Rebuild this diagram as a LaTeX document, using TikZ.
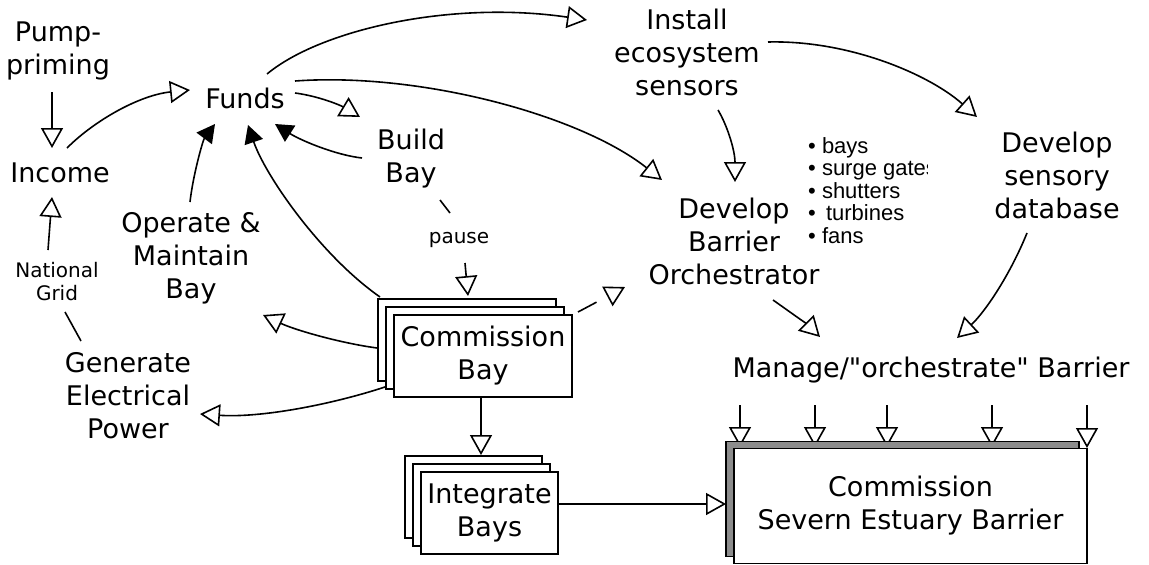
\documentclass[tikz,border=0pt]{standalone}
\usepackage{fontspec}
\newfontfamily\genv{DejaVu Sans}
\newfontfamily\helv{Liberation Sans}
\usetikzlibrary{arrows.meta,shadows,backgrounds}
\begin{document}
\begin{tikzpicture}[x=1pt,y=-1pt,
  lbl/.style={font=\genv\fontsize{27}{33}\selectfont, align=center, inner sep=0pt},
  sml/.style={font=\genv\fontsize{20}{23}\selectfont, align=center, inner sep=0pt},
  con/.style={line width=1.6pt},
  oa/.style={con, -{Triangle[open, length=20pt, width=22pt, line width=1.6pt]}},
  fa/.style={con, -{Triangle[length=18pt, width=19pt]}},
  stack/.style={draw, line width=1.8pt, fill=white, lbl, minimum width=#1, minimum height=82pt,
     copy shadow={shadow xshift=-16pt, shadow yshift=16pt, line width=1.8pt},
     copy shadow={shadow xshift=-8pt, shadow yshift=8pt, line width=1.8pt}},
]
\useasboundingbox (0,0) rectangle (1149,565);

% text nodes
\node[lbl] (pump) at (58,51) {Pump-\\priming};
\node[lbl] (income) at (60,173) {Income};
\node[sml] (grid) at (57,282) {National\\Grid};
\node[lbl] (generate) at (128,396) {Generate\\Electrical\\Power};
\node[lbl] (funds) at (245,98) {Funds};
\node[lbl] (operate) at (191,258) {Operate \&\\Maintain\\Bay};
\node[lbl] (build) at (411,159) {Build\\Bay};
\node[sml] (pause) at (459,240) {pause};
\node[lbl] (install) at (687,52) {Install\\ecosystem\\sensors};
\node[lbl] (devorch) at (734,241) {Develop\\Barrier\\Orchestrator};
\node[lbl] (sensdb) at (1057,175) {Develop\\sensory\\database};
\node[lbl] (manage) at (931,370) {Manage/"orchestrate" Barrier};
\begin{scope}
  \clip (800,120) rectangle (927,262);
  \node[font=\helv\fontsize{22}{22.5}\selectfont, align=left, inner sep=0pt, anchor=north west] (list) at (808,137)
    {• bays\\• surge gates\\• shutters\\•\kern4pt\ turbines\\• fans};
\end{scope}

% boxes
\node[stack=178pt] (cbay) at (483,356) {Commission\\Bay};
\node[stack=137pt] (ibays) at (489.5,513) {Integrate\\Bays};
\node[draw, line width=1.8pt, fill=white, lbl, minimum width=353pt, minimum height=115pt,
  copy shadow={shadow xshift=-8pt, shadow yshift=7pt, fill=black!45, line width=1.8pt}]
  (severn) at (910.5,506) {Commission\\Severn Estuary Barrier};

% connectors
\draw[oa] ([shift={(-6,41)}]pump.center) -- ([shift={(-8,-25)}]income.center);
\draw[oa] ([shift={(-9,-32)}]grid.center) -- ([shift={(-8,24)}]income.center);
\draw[con] ([shift={(-47,-55)}]generate.center) -- ([shift={(8,30)}]grid.center);
\draw[oa] ([shift={(7,-25)}]income.center) .. controls (95,120) and (140,95) .. ([shift={(-55,-8)}]funds.center);
\draw[fa] ([shift={(-1,-56)}]operate.center) .. controls (193,175) and (203,140) .. ([shift={(-30,26)}]funds.center);
\draw[fa] ([shift={(-49,-1)}]build.center) .. controls (335,155) and (300,140) .. ([shift={(30,26)}]funds.center);
\draw[fa] ([shift={(-103,-59)}]cbay.center) .. controls (320,255) and (265,175) .. ([shift={(3,27)}]funds.center);
\draw[oa] ([shift={(50,-5)}]funds.center) .. controls (318,96) and (340,105) .. ([shift={(-51,-42)}]build.center);
\draw[oa] ([shift={(22,-24)}]funds.center) .. controls (320,30) and (450,0) .. ([shift={(-100,-32)}]install.center);
\draw[oa] ([shift={(50,-17)}]funds.center) .. controls (420,72) and (580,115) .. ([shift={(-72,-61)}]devorch.center);
\draw[oa] ([shift={(31,58)}]install.center) .. controls (727,125) and (735,150) .. ([shift={(1,-59)}]devorch.center);
\draw[oa] ([shift={(81,-10)}]install.center) .. controls (850,40) and (930,75) .. ([shift={(-80,-58)}]sensdb.center);
\draw[con] ([shift={(29,41)}]build.center) -- ([shift={(-9,-27)}]pause.center);
\draw[oa] ([shift={(6,23)}]pause.center) -- ([shift={(-15,-60)}]cbay.center);
\draw[oa, dash pattern=on 21pt off 60pt] ([shift={(95,-44)}]cbay.center) -- ([shift={(-109,46)}]devorch.center);
\draw[oa] ([shift={(-106,-8)}]cbay.center) .. controls (340,343) and (295,330) .. ([shift={(72,57)}]operate.center);
\draw[oa] ([shift={(-98,31)}]cbay.center) .. controls (330,405) and (260,418) .. ([shift={(72,18)}]generate.center);
\draw[oa] ([shift={(-2,41)}]cbay.center) -- ([shift={(-8.5,-58)}]ibays.center);
\draw[oa] ([shift={(68.5,-9)}]ibays.center) -- ([shift={(-184.5,-2)}]severn.center);
\draw[oa] ([shift={(39,59)}]devorch.center) .. controls (790,312) and (808,325) .. ([shift={(-111,-33)}]manage.center);
\draw[oa] ([shift={(-30,58)}]sensdb.center) .. controls (1010,275) and (985,312) .. ([shift={(26,-32)}]manage.center);

\begin{pgfonlayer}{background}
  \foreach \x in {740,815,887,992}{
    \draw[oa] ([shift={(\x-931,35)}]manage.center) -- ([shift={(\x-910.5,-59)}]severn.center);
  }
  \draw[oa] ([shift={(156,35)}]manage.center) -- ([shift={(176.5,-58)}]severn.center);
\end{pgfonlayer}
\end{tikzpicture}
\end{document}
